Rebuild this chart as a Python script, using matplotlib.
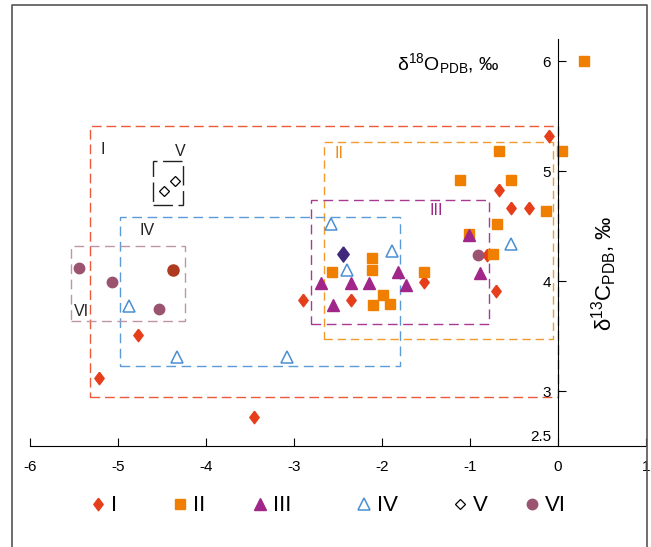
import numpy as np
import matplotlib
matplotlib.use('Agg')
from matplotlib import pyplot as plt
from matplotlib.lines import Line2D
from matplotlib.patches import Rectangle

plt.rcParams['font.family'] = ['Liberation Sans', 'DejaVu Sans']
plt.rcParams['axes.unicode_minus'] = False
plt.rcParams['mathtext.default'] = 'regular'

# group I - red diamonds
g1_x = [-0.10, -0.67, -0.53, -0.33, -0.81, -0.70, -1.52, -2.35, -2.90, -3.46, -4.77, -5.22]
g1_y = [5.32, 4.83, 4.66, 4.66, 4.24, 3.91, 3.99, 3.83, 3.83, 2.76, 3.51, 3.12]
# group II - orange squares
g2_x = [0.30, 0.04, -0.67, -1.11, -0.54, -0.14, -0.69, -1.01, -0.74, -2.12, -2.12, -2.57, -1.52, -1.99, -2.10, -1.91]
g2_y = [6.00, 5.18, 5.18, 4.92, 4.92, 4.64, 4.52, 4.43, 4.25, 4.21, 4.10, 4.08, 4.08, 3.87, 3.78, 3.79]
# group III - purple triangles
g3_x = [-1.01, -0.89, -1.82, -1.73, -2.15, -2.35, -2.70, -2.56]
g3_y = [4.42, 4.07, 4.08, 3.96, 3.98, 3.98, 3.98, 3.78]
# group IV - open blue triangles
g4_x = [-2.58, -1.89, -2.40, -0.53, -4.88, -4.33, -3.08]
g4_y = [4.52, 4.27, 4.10, 4.34, 3.77, 3.31, 3.31]
# group V - open diamonds
g5_x = [-4.48, -4.36]
g5_y = [4.82, 4.91]
# group VI - mauve dots
g6_x = [-5.45, -5.07, -4.54, -0.91]
g6_y = [4.12, 3.99, 3.75, 4.24]
# odd coloured points
dark_x, dark_y = [-2.44], [4.25]
brown_x, brown_y = [-4.38], [4.10]

# field boxes: x0, x1, y0, y1
boxes = {
    'I':   (-5.32, 0.00, 2.95, 5.41),
    'II':  (-2.66, -0.06, 3.47, 5.26),
    'III': (-2.81, -0.78, 3.61, 4.74),
    'IV':  (-4.98, -1.80, 3.23, 4.58),
    'V':   (-4.60, -4.26, 4.69, 5.09),
    'VI':  (-5.54, -4.24, 3.64, 4.32),
}
box_labels = {'I': (-5.18, 5.20), 'II': (-2.49, 5.16), 'III': (-1.38, 4.64),
              'IV': (-4.67, 4.46), 'V': (-4.30, 5.18), 'VI': (-5.42, 3.72)}

c1, c2, c3, c4, c5, c6 = '#e63e1a', '#f07f00', '#a12689', '#4a8fd4', 'black', '#9b5470'
box_col = {'I': '#ec5a3a', 'II': '#f39a2e', 'III': '#a83a92', 'IV': '#5b9bd8', 'V': '#222222', 'VI': '#bf95a5'}
lab_col = {'I': '#222222', 'II': '#f08a10', 'III': '#a12689', 'IV': '#222222', 'V': '#222222', 'VI': '#222222'}
box_ls = {'I': (0, (7, 3.5)), 'II': (0, (6, 3.5)), 'III': (0, (7, 4)), 'IV': (0, (7, 4)),
          'V': (0, (14, 4)), 'VI': (0, (7, 4))}

diam = [(0, 1), (0.75, 0), (0, -1), (-0.75, 0), (0, 1)]

fig = plt.figure(figsize=(6.51, 5.47), dpi=100)
ax = fig.add_axes([0.0465, 0.1846, 0.9458, 0.744])

for k, (x0, x1, y0, y1) in boxes.items():
    ax.add_patch(Rectangle((x0, y0), x1 - x0, y1 - y0, fill=False, ec=box_col[k],
                           lw=1.0, ls=box_ls[k], zorder=1))
    ax.text(*box_labels[k], k, color=lab_col[k], fontsize=11.5, ha='center', va='center')

h1, = ax.plot(g1_x, g1_y, ls='none', marker=diam, ms=9, color=c1, mec=c1, zorder=3)
h2, = ax.plot(g2_x, g2_y, ls='none', marker='s', ms=7.5, color=c2, mec=c2, zorder=3)
h3, = ax.plot(g3_x, g3_y, ls='none', marker='^', ms=8, color=c3, mec=c3, zorder=4)
h4, = ax.plot(g4_x, g4_y, ls='none', marker='^', ms=8, mfc='white', mec=c4, mew=1.1, zorder=3)
h5, = ax.plot(g5_x, g5_y, ls='none', marker='D', ms=5.5, mfc='white', mec=c5, mew=0.9, zorder=3)
h6, = ax.plot(g6_x, g6_y, ls='none', marker='o', ms=7.5, color=c6, mec=c6, zorder=3)
ax.plot(dark_x, dark_y, ls='none', marker=diam, ms=11, color='#40287a', zorder=3)
ax.plot(brown_x, brown_y, ls='none', marker='o', ms=8, color='#ae3a20', zorder=3)

ax.set_xlim(-6, 1)
ax.set_ylim(2.5, 6.2)
ax.spines['top'].set_visible(False)
ax.spines['right'].set_visible(False)
ax.spines['left'].set_position(('data', 0))
ax.spines['left'].set_zorder(5)
ax.set_xticks(range(-6, 2))
ax.set_yticks([3, 4, 5, 6])
ax.tick_params(axis='x', direction='in', length=6, pad=10, labelsize=11)
ax.tick_params(axis='y', direction='in', length=6, pad=5, labelsize=11)
ax.text(-0.07, 2.52, '2.5', fontsize=11, ha='right', va='bottom')
ax.patch.set_visible(False)

ax.text(-1.83, 5.98, r'δ$^{18}$O$_{PDB}$, ‰', fontsize=14, ha='left', va='center')
ax.text(0.52, 4.07, r'δ$^{13}$C$_{PDB}$, ‰', fontsize=16, ha='center', va='center', rotation=90)

# legend: one small legend per group, placed under the axis like the original
legend_items = [(h1, 'I', 98), (h2, 'II', 180), (h3, 'III', 260),
                (h4, 'IV', 364), (h5, 'V', 460), (h6, 'VI', 532)]
for h, lab, px in legend_items:
    lg = fig.legend(handles=[h], labels=[lab], loc='center left',
                    bbox_to_anchor=((px - 9) / 651, 0.075), frameon=False, fontsize=16,
                    handlelength=0.8, handletextpad=0.2, borderpad=0, borderaxespad=0)

frame_x = [12 / 651, 12 / 651, 647 / 651, 647 / 651]
frame_y = [0, 1 - 5 / 547, 1 - 5 / 547, 0]
fig.add_artist(Line2D(frame_x, frame_y, transform=fig.transFigure, color='#555555', lw=1.2))

fig.savefig('out.png', dpi=100)
